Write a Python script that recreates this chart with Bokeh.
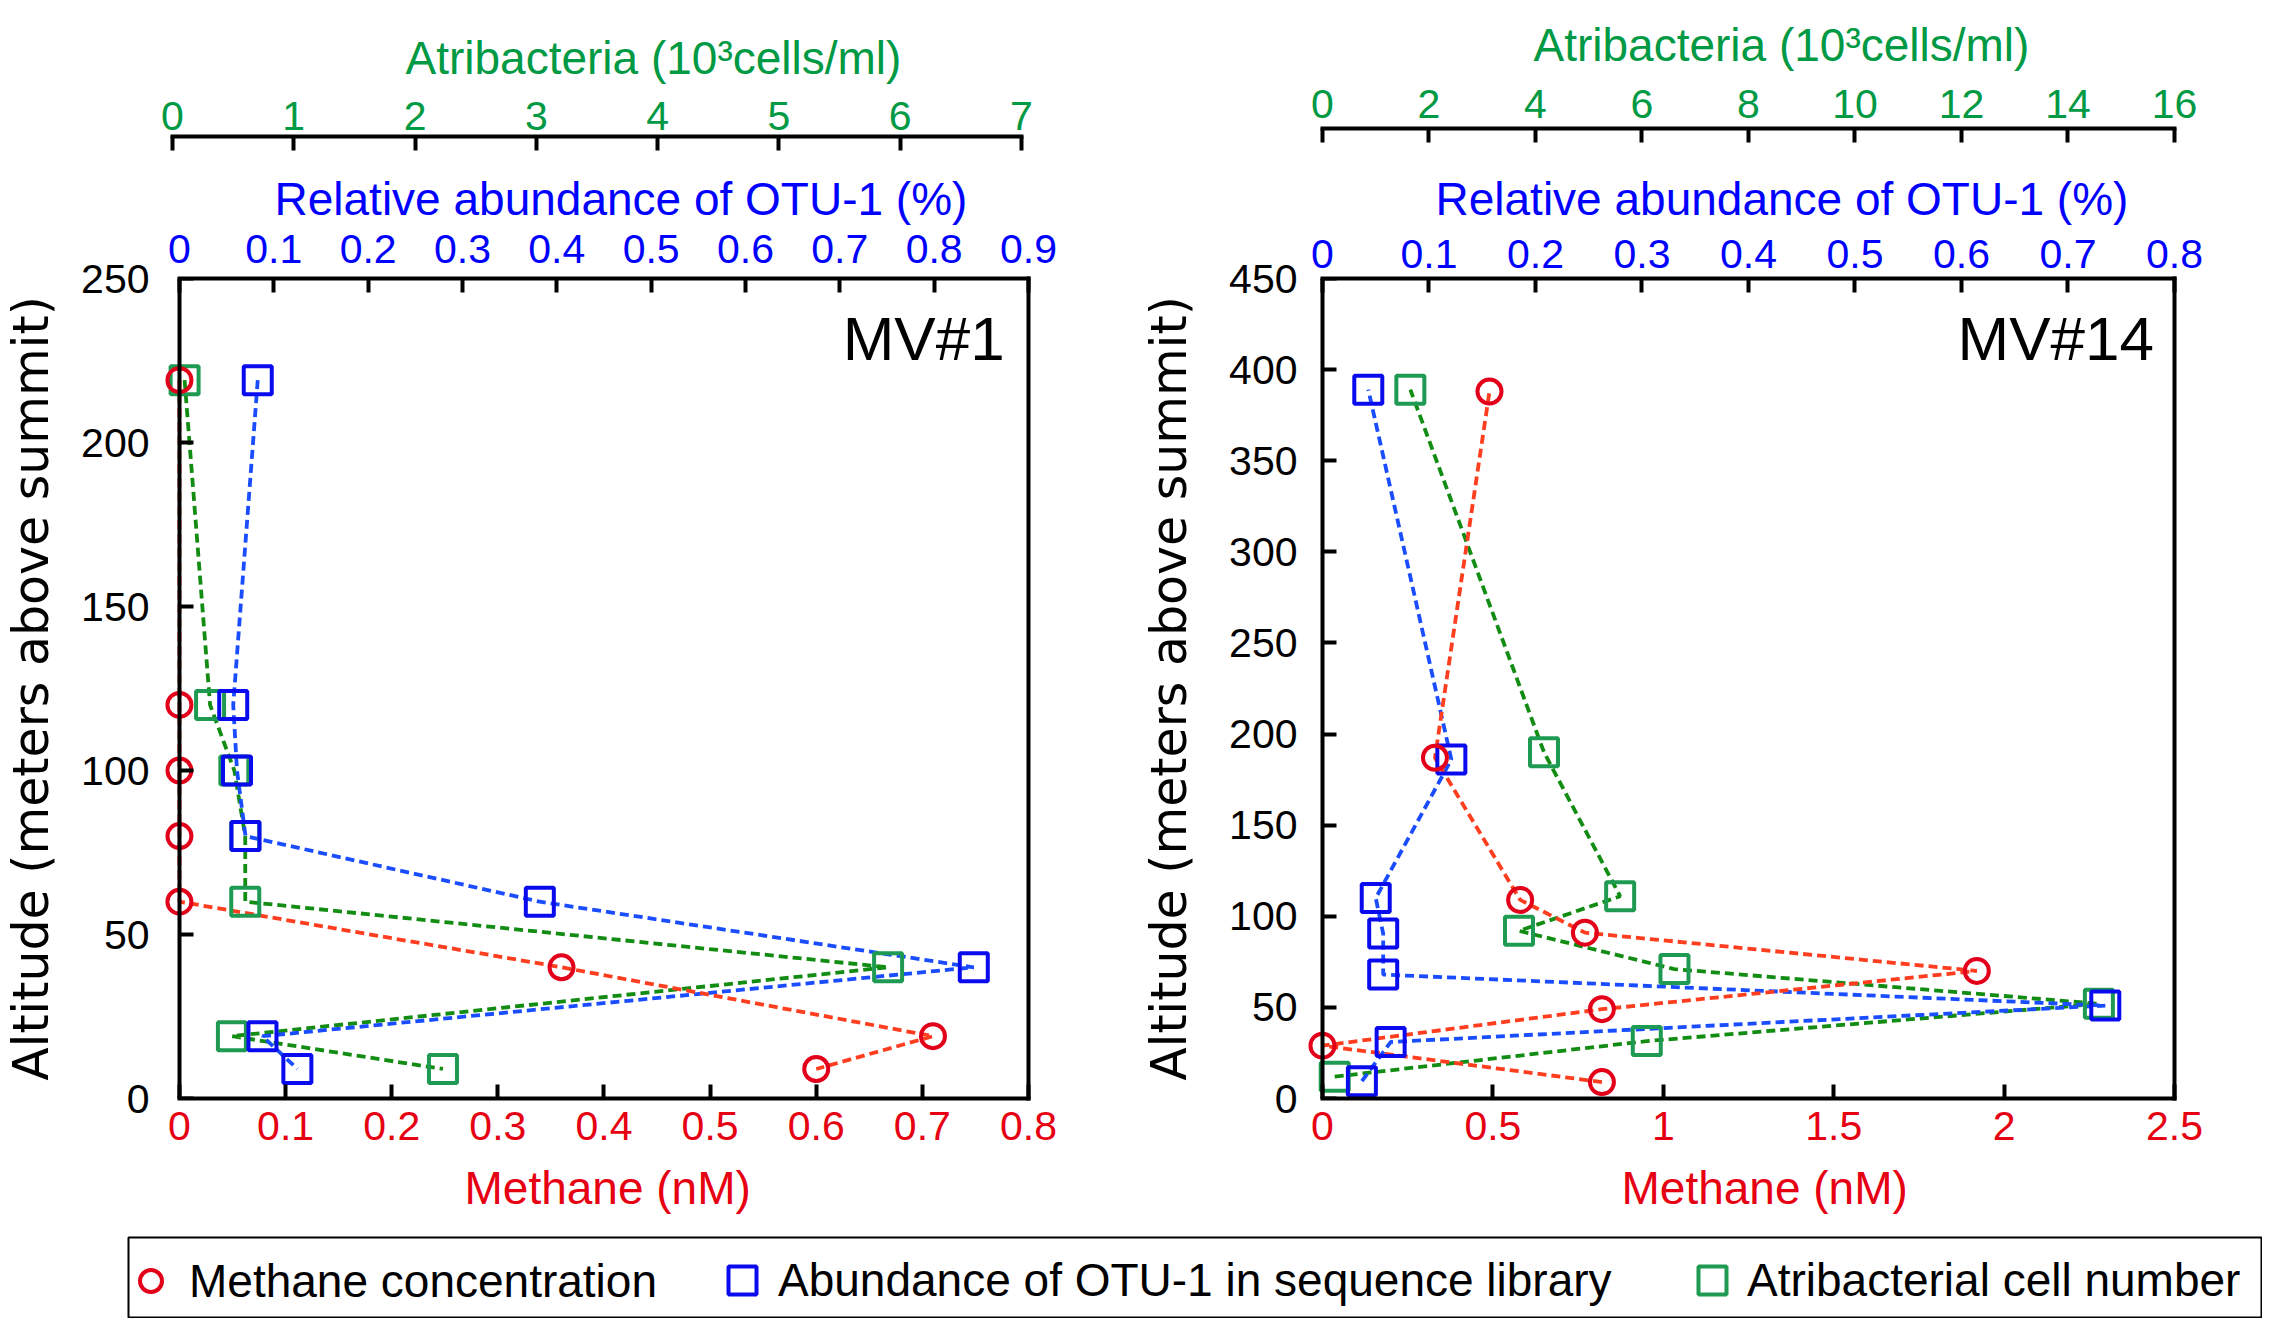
import math
from bokeh.plotting import figure
from bokeh.models import (Range1d, LinearAxis, FixedTicker, Label, Legend, LegendItem,
                          Spacer, Title)
from bokeh.layouts import row, column
from bokeh.embed import file_html
from bokeh.resources import INLINE
from bokeh.core.properties import value

# ---------------- data ----------------
# MV#1
mv1_methane_alt = [219, 120, 100, 80, 60, 40, 19, 9]
mv1_methane = [0, 0, 0, 0, 0, 0.36, 0.71, 0.60]
mv1_otu_alt = [219, 120, 100, 80, 60, 40, 19, 9]
mv1_otu = [0.083, 0.057, 0.061, 0.070, 0.382, 0.842, 0.088, 0.125]
mv1_atri_alt = [219, 120, 100, 80, 60, 40, 19, 9]
mv1_atri = [0.10, 0.31, 0.51, 0.60, 0.60, 5.90, 0.49, 2.23]

# MV#14
mv14_methane_alt = [9, 29, 49, 70, 91, 109, 187, 388]
mv14_methane = [0.82, 0.0, 0.82, 1.92, 0.77, 0.58, 0.33, 0.49]
mv14_otu_alt = [9.5, 31, 51, 68, 90.5, 110, 186, 389]
mv14_otu = [0.037, 0.064, 0.735, 0.057, 0.057, 0.050, 0.121, 0.043]
mv14_atri_alt = [12, 31.5, 52, 71, 92, 111, 190, 389]
mv14_atri = [0.23, 6.09, 14.58, 6.61, 3.69, 5.59, 4.16, 1.65]

# ticks
mv1_methane_ticks = [0, 0.1, 0.2, 0.3, 0.4, 0.5, 0.6, 0.7, 0.8]
mv1_methane_labels = ["0", "0.1", "0.2", "0.3", "0.4", "0.5", "0.6", "0.7", "0.8"]
mv1_otu_ticks = [0, 0.1, 0.2, 0.3, 0.4, 0.5, 0.6, 0.7, 0.8, 0.9]
mv1_otu_labels = ["0", "0.1", "0.2", "0.3", "0.4", "0.5", "0.6", "0.7", "0.8", "0.9"]
mv1_atri_ticks = [0, 1, 2, 3, 4, 5, 6, 7]
mv1_atri_labels = ["0", "1", "2", "3", "4", "5", "6", "7"]
mv1_alt_ticks = [0, 50, 100, 150, 200, 250]
mv1_alt_labels = ["0", "50", "100", "150", "200", "250"]

mv14_methane_ticks = [0, 0.5, 1, 1.5, 2, 2.5]
mv14_methane_labels = ["0", "0.5", "1", "1.5", "2", "2.5"]
mv14_otu_ticks = [0, 0.1, 0.2, 0.3, 0.4, 0.5, 0.6, 0.7, 0.8]
mv14_otu_labels = ["0", "0.1", "0.2", "0.3", "0.4", "0.5", "0.6", "0.7", "0.8"]
mv14_atri_ticks = [0, 2, 4, 6, 8, 10, 12, 14, 16]
mv14_atri_labels = ["0", "2", "4", "6", "8", "10", "12", "14", "16"]
mv14_alt_ticks = [0, 50, 100, 150, 200, 250, 300, 350, 400, 450]
mv14_alt_labels = ["0", "50", "100", "150", "200", "250", "300", "350", "400", "450"]

titles = {"atri": "Atribacteria (10³cells/ml)", "otu": "Relative abundance of OTU-1 (%)",
          "methane": "Methane (nM)", "alt": "Altitude (meters above summit)"}
legend_labels = ["Methane concentration", "Abundance of OTU-1 in sequence library",
                 "Atribacterial cell number"]

# ---------------- styles ----------------
RED_TXT, RED_MK, RED_LN = "#e60012", "#e3001b", "#ff3d1f"
BLUE_TXT, BLUE_MK, BLUE_LN = "#0000ff", "#0a0aee", "#1a4dff"
GREEN_TXT, GREEN_MK, GREEN_LN = "#009944", "#1f9a52", "#128c12"
FONT = "Liberation Sans"
TICK_SIZE = "41px"
TITLE_SIZE = "46px"
PAD = 16  # px of room left of x = 0 so markers sitting on zero are not clipped
FRAME_TOP = 278
FRAME_BOTTOM_BORDER = 138
PANEL_H = 1236
MK_LW = 4
LN_LW = 3.8


def style_axis(ax, ticks, labels, color, standoff, bounds=None):
    ax.ticker = FixedTicker(ticks=ticks)
    ax.major_label_overrides = {t: l for t, l in zip(ticks, labels)}
    ax.major_tick_in = 14
    ax.major_tick_out = 0
    ax.minor_tick_line_color = None
    ax.major_tick_line_width = 4
    ax.major_tick_line_color = "black"
    ax.axis_line_width = 4
    ax.axis_line_color = "black"
    ax.axis_line_cap = "square"
    ax.major_label_text_font = FONT
    ax.major_label_text_font_size = TICK_SIZE
    ax.major_label_text_color = color
    ax.major_label_standoff = standoff
    ax.axis_label = None
    if bounds is not None:
        ax.bounds = bounds


def make_title(text, color, offset, standoff):
    return Title(text=text, align="left", offset=offset, standoff=standoff,
                 text_font=FONT, text_font_size=TITLE_SIZE, text_font_style="normal",
                 text_color=color)


def make_panel(width, border_left, border_right, m_rng, o_rng, a_rng, alt_max,
               m_ticks, m_labels, o_ticks, o_labels, a_ticks, a_labels,
               alt_ticks, alt_labels, series, so, title_pos, ylab_standoff, tag):
    p = figure(width=width, height=PANEL_H, x_range=Range1d(*m_rng),
               y_range=Range1d(0, alt_max), output_backend="svg", toolbar_location=None,
               min_border_left=border_left, min_border_right=border_right,
               min_border_top=FRAME_TOP, min_border_bottom=FRAME_BOTTOM_BORDER)
    p.extra_x_ranges = {"otu": Range1d(*o_rng), "atri": Range1d(*a_rng)}
    p.grid.visible = False
    p.outline_line_color = None
    p.background_fill_color = "white"
    p.border_fill_color = "white"

    # bottom: methane axis and its title
    xa = p.xaxis[0]
    style_axis(xa, m_ticks, m_labels, RED_TXT, so["m"], (0, m_ticks[-1]))
    p.add_layout(make_title(titles["methane"], RED_TXT, title_pos["m"][0], title_pos["m"][1]),
                 "below")

    # left: tick labels + axis title on the frame edge; line + ticks at x = 0
    ya = p.yaxis[0]
    style_axis(ya, alt_ticks, alt_labels, "black", so["y"])
    ya.axis_line_color = None
    ya.major_tick_line_color = None
    ya.axis_label = titles["alt"]
    ya.axis_label_text_font = "DejaVu Sans"
    ya.axis_label_text_font_size = "49px"
    ya.axis_label_text_font_style = "normal"
    ya.axis_label_text_color = "black"
    ya.axis_label_standoff = ylab_standoff
    yl = LinearAxis(fixed_location=0)
    style_axis(yl, alt_ticks, ["" for _ in alt_ticks], "black", 0)
    p.add_layout(yl, "left")

    # top: OTU axis, its title, a gap, Atribacteria axis, its title
    oa = LinearAxis(x_range_name="otu")
    style_axis(oa, o_ticks, o_labels, BLUE_TXT, so["o"], (0, o_ticks[-1]))
    p.add_layout(oa, "above")
    p.add_layout(make_title(titles["otu"], BLUE_TXT, title_pos["o"][0], title_pos["o"][1]),
                 "above")
    gap = LinearAxis(x_range_name="otu", ticker=FixedTicker(ticks=[0]), major_tick_in=0,
                     major_tick_out=so["gap"], axis_line_alpha=0, major_tick_line_alpha=0,
                     minor_tick_line_alpha=0, major_label_overrides={0: ""},
                     major_label_standoff=0, major_label_text_font_size="1px")
    p.add_layout(gap, "above")
    aa = LinearAxis(x_range_name="atri")
    style_axis(aa, a_ticks, a_labels, GREEN_TXT, so["a"], (0, a_ticks[-1]))
    p.add_layout(aa, "above")
    p.add_layout(make_title(titles["atri"], GREEN_TXT, title_pos["a"][0], title_pos["a"][1]),
                 "above")

    # right frame edge
    ra = LinearAxis(ticker=FixedTicker(ticks=[]), major_tick_in=0, major_tick_out=0,
                    major_label_text_font_size="0px", axis_line_width=4,
                    axis_line_color="black", axis_line_cap="square")
    p.add_layout(ra, "right")

    for xs, ys, rname, lc, mc, marker, size in series:
        kw = {} if rname is None else {"x_range_name": rname}
        p.line(xs, ys, line_color=lc, line_width=LN_LW, line_dash="9 5", **kw)
    for xs, ys, rname, lc, mc, marker, size in series:
        kw = {} if rname is None else {"x_range_name": rname}
        p.scatter(xs, ys, marker=marker, size=size, line_color=mc, fill_color=None,
                  line_width=MK_LW, **kw)

    p.add_layout(Label(x=tag[1], y=tag[2], text=tag[0], text_font=FONT, text_font_size="62px",
                       text_color="black", text_align="right", text_baseline="middle"))
    return p


# ---- left panel (MV#1) ----
FW1 = 852
g0_off = 9  # the Atribacteria zero sits 9px right of the padded frame edge
p1 = make_panel(
    1120, 176 - PAD, 92,
    (-0.8 * PAD / FW1, 0.8), (-0.9 * PAD / FW1, 0.9),
    (-g0_off * 7 / FW1, (FW1 + PAD - g0_off) * 7 / FW1), 250,
    mv1_methane_ticks, mv1_methane_labels, mv1_otu_ticks, mv1_otu_labels,
    mv1_atri_ticks, mv1_atri_labels, mv1_alt_ticks, mv1_alt_labels,
    [(mv1_atri, mv1_atri_alt, "atri", GREEN_LN, GREEN_MK, "square", 28),
     (mv1_otu, mv1_otu_alt, "otu", BLUE_LN, BLUE_MK, "square", 28),
     (mv1_methane, mv1_methane_alt, None, RED_LN, RED_MK, "circle", 24)],
    {"y": 14, "o": 16, "a": 7, "m": 13, "gap": 28},
    {"m": (301, 34), "o": (111, 13), "a": (242, 30)},
    18, ("MV#1", 0.7775, 231.7))

# ---- right panel (MV#14) ----
FW2 = 853
p2 = make_panel(
    1142, 1322 - PAD - 1120, 88,
    (-2.5 * PAD / FW2, 2.5), (-0.8 * PAD / FW2, 0.8), (-16 * PAD / FW2, 16), 450,
    mv14_methane_ticks, mv14_methane_labels, mv14_otu_ticks, mv14_otu_labels,
    mv14_atri_ticks, mv14_atri_labels, mv14_alt_ticks, mv14_alt_labels,
    [(mv14_atri, mv14_atri_alt, "atri", GREEN_LN, GREEN_MK, "square", 28),
     (mv14_otu, mv14_otu_alt, "otu", BLUE_LN, BLUE_MK, "square", 28),
     (mv14_methane, mv14_methane_alt, None, RED_LN, RED_MK, "circle", 24)],
    {"y": 9, "o": 11, "a": 11, "m": 13, "gap": 31},
    {"m": (315, 34), "o": (129, 23), "a": (227, 32)},
    28, ("MV#14", 2.44, 416.8))

# ---- legend strip ----
leg = figure(width=2135, height=82, x_range=Range1d(0, 1), y_range=Range1d(0, 1),
             output_backend="svg", toolbar_location=None,
             x_axis_location=None, y_axis_location=None,
             min_border_left=1, min_border_right=1, min_border_top=1, min_border_bottom=1)
leg.grid.visible = False
leg.outline_line_color = "black"
leg.outline_line_width = 2
leg.background_fill_color = "white"
leg.border_fill_color = "white"

# legend sample renderers reuse the MV#1 series; all their points fall outside this strip
r_red = leg.scatter(mv1_methane, mv1_methane_alt, marker="circle", size=22, line_color=RED_MK,
                    fill_color=None, line_width=MK_LW)
r_blue = leg.scatter(mv1_otu, mv1_otu_alt, marker="square", size=28, line_color=BLUE_MK,
                     fill_color=None, line_width=MK_LW)
r_green = leg.scatter(mv1_atri, mv1_atri_alt, marker="square", size=28, line_color=GREEN_MK,
                      fill_color=None, line_width=MK_LW)

for r, text, loc, box, so in [(r_red, legend_labels[0], (-5, 9), 55, 11),
                              (r_blue, legend_labels[1], (579, 2), 70, 1),
                              (r_green, legend_labels[2], (1549, 2), 70, 0)]:
    lg = Legend(items=[LegendItem(label=value(text), renderers=[r])], location=loc,
                orientation="horizontal", glyph_width=box, glyph_height=box,
                label_standoff=so, label_text_font=FONT, label_text_font_size="46px",
                label_text_color="black", border_line_color=None, background_fill_alpha=0,
                padding=0, margin=0, spacing=0)
    leg.add_layout(lg, "center")

layout = column(row(p1, p2), row(Spacer(width=127, height=82), leg))

with open("out.html", "w") as f:
    f.write(file_html(layout, INLINE))
